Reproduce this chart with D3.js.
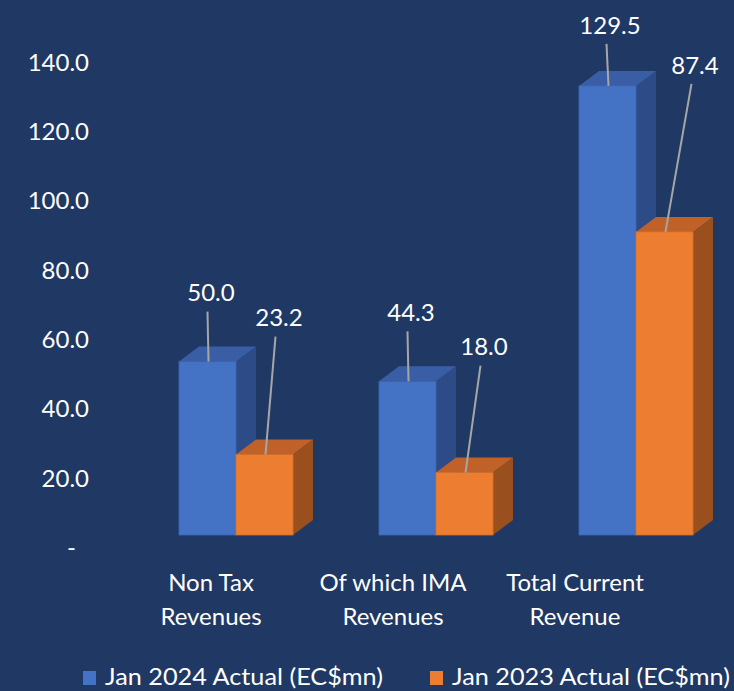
<!DOCTYPE html>
<html>
<head>
<meta charset="utf-8">
<script src="https://cdn.jsdelivr.net/npm/d3@7"></script>
<style>
  html, body { margin: 0; padding: 0; background: #203864; }
  svg { display: block; font-family: Lato, "Open Sans", sans-serif; }
</style>
</head>
<body>
<svg id="chart"></svg>
<script>
const categories = [["Non Tax", "Revenues"], ["Of which IMA", "Revenues"], ["Total Current", "Revenue"]];
const seriesNames = ["Jan 2024 Actual (EC$mn)", "Jan 2023 Actual (EC$mn)"];
const jan2024 = [50.0, 44.3, 129.5];
const jan2023 = [23.2, 18.0, 87.4];
const yTicks = [0, 20, 40, 60, 80, 100, 120, 140];

// label offsets from bar top, per series
const labelOffsets = [
  [[3.5, -69], [3.5, -69], [2.5, -61]],
  [[14.5, -137], [19.5, -126], [30.5, -167]]
];

const W = 734, H = 691;
const colors = [
  {front: "#4472c4", top: "#3a5ea6", side: "#2c4b87"},
  {front: "#ed7d31", top: "#bf6128", side: "#9a4f1e"}
];
const depth = {dx: 20, dy: -15};

const svg = d3.select("#chart").attr("width", W).attr("height", H);
svg.append("rect").attr("width", W).attr("height", H).attr("fill", "#203864");

const keys = categories.map(c => c.join(" "));

// axis labels sit a bit lower than the bar fronts (3d wall)
const yAxisScale = d3.scaleLinear().domain([0, 140]).range([547, 61.5]);
const yScale = d3.scaleLinear().domain([0, 140]).range([535, 49.5]);

const x0 = d3.scalePoint().domain(keys).range([236, 636]);
const x1 = d3.scaleBand().domain(seriesNames).range([-57, 57]);
const xLabel = d3.scalePoint().domain(keys).range([211, 575]);

const yAxis = d3.axisLeft(yAxisScale)
  .tickValues(yTicks)
  .tickSize(0)
  .tickPadding(0)
  .tickFormat(d => d === 0 ? "-" : d3.format(".1f")(d));

const yAxisG = svg.append("g")
  .attr("transform", "translate(89,0)")
  .call(yAxis)
  .call(g => g.select(".domain").remove());

yAxisG.selectAll("text")
  .attr("fill", "#ffffff")
  .attr("font-size", 24)
  .attr("font-family", "Lato, sans-serif")
  .attr("dy", "0.36em")
  .attr("dx", d => d === 0 ? -13 : 0);

const series = [jan2024, jan2023];

const barData = [];
series.forEach((vals, s) => {
  vals.forEach((v, i) => {
    barData.push({s, i, v, cat: keys[i], name: seriesNames[s]});
  });
});

const bars = svg.append("g");

keys.forEach((k, i) => {
  series.forEach((vals, s) => {
    const d = barData.find(b => b.s === s && b.i === i);
    const x = x0(k) + x1(d.name);
    const w = x1.bandwidth();
    const yt = yScale(d.v), yb = yScale(0);
    const g = bars.append("g");
    g.append("polygon")
      .attr("points", [[x + w, yt], [x + w + depth.dx, yt + depth.dy], [x + w + depth.dx, yb + depth.dy], [x + w, yb]].join(" "))
      .attr("fill", colors[s].side);
    g.append("polygon")
      .attr("points", [[x, yt], [x + depth.dx, yt + depth.dy], [x + w + depth.dx, yt + depth.dy], [x + w, yt]].join(" "))
      .attr("fill", colors[s].top);
    g.append("rect")
      .attr("x", x).attr("y", yt)
      .attr("width", w).attr("height", yb - yt)
      .attr("fill", colors[s].front)
      .attr("stroke", d3.color(colors[s].front).darker(0.3))
      .attr("stroke-width", 0.8);
  });
});

// data labels + leader lines
const labels = svg.append("g");
barData.forEach(d => {
  const cx = x0(d.cat) + x1(d.name) + x1.bandwidth() / 2;
  const yt = yScale(d.v);
  const [ox, oy] = labelOffsets[d.s][d.i];
  const lx = cx + ox, ly = yt + oy;
  labels.append("line")
    .attr("x1", lx - 3.5).attr("y1", ly + 19)
    .attr("x2", cx + 1).attr("y2", yt)
    .attr("stroke", "#a6a6a6")
    .attr("stroke-width", 2);
  labels.append("text")
    .attr("x", lx).attr("y", ly)
    .attr("dy", "0.36em")
    .attr("text-anchor", "middle")
    .attr("fill", "#ffffff")
    .attr("font-size", 24)
    .text(d3.format(".1f")(d.v));
});

// category labels
const catG = svg.append("g");
categories.forEach((c, i) => {
  const t = catG.append("text")
    .attr("x", xLabel(keys[i]))
    .attr("text-anchor", "middle")
    .attr("fill", "#ffffff")
    .attr("font-size", 24);
  c.forEach((line, j) => {
    t.append("tspan").attr("x", xLabel(keys[i])).attr("y", 591 + j * 34).text(line);
  });
});

// legend
const legendX = [83, 430];
const legend = svg.append("g");
seriesNames.forEach((n, s) => {
  legend.append("rect")
    .attr("x", legendX[s]).attr("y", 671)
    .attr("width", 13).attr("height", 14)
    .attr("fill", colors[s].front);
  legend.append("text")
    .attr("x", legendX[s] + 22).attr("y", 685)
    .attr("fill", "#ffffff")
    .attr("font-size", 24)
    .attr("textLength", 278)
    .attr("lengthAdjust", "spacingAndGlyphs")
    .text(n);
});
</script>
</body>
</html>
